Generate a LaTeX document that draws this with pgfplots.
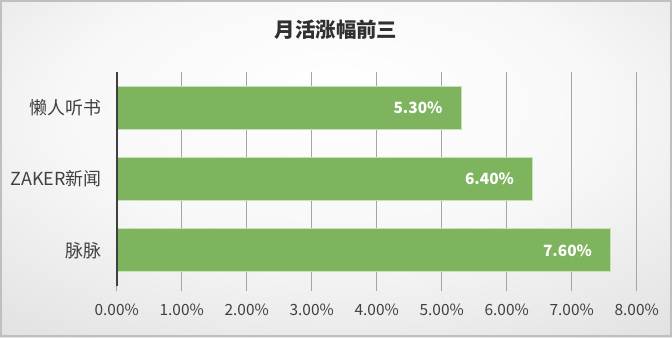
\documentclass[border=0pt]{standalone}
\usepackage{pgfplots}
\pgfplotsset{compat=1.18}
\usepackage{fontspec}
\setmainfont{Noto Sans CJK SC}
\definecolor{barg}{RGB}{127,180,95}
\definecolor{barb}{RGB}{200,225,185}
\definecolor{txt}{RGB}{64,64,64}
\definecolor{gridc}{RGB}{165,165,165}
\pgfdeclareradialshading{bgshade}{\pgfpoint{0bp}{12bp}}{color(0bp)=(white); color(20bp)=(white!97!black); color(72bp)=(white!74!black)}
\begin{document}
\begin{tikzpicture}[x=1bp,y=1bp]
\shade[shading=bgshade] (0,0) rectangle (672,337);
\draw[line width=2bp, draw=white!75!black] (1,1) rectangle (671,336);
\node[font=\bfseries\fontsize{20.5}{24}\selectfont, text=txt!75!black] at (336,307) {月活涨幅前三};
\begin{axis}[
  at={(116.7bp,51bp)}, anchor=south west,
  scale only axis, width=520bp, height=214bp,
  xbar, bar width=43bp,
  xmin=0, xmax=8, ymin=-0.5, ymax=2.5,
  axis lines*=left,
  x axis line style={draw=none},
  y axis line style={draw=none},
  xtick={0,1,2,3,4,5,6,7,8},
  xticklabels={0.00\%,1.00\%,2.00\%,3.00\%,4.00\%,5.00\%,6.00\%,7.00\%,8.00\%},
  ytick={0,1,2},
  yticklabels={脉脉,ZAKER新闻,懒人听书},
  xmajorgrids, grid style={draw=gridc, line width=0.8bp},
  tick align=outside, major tick length=5bp,
  xtick style={draw=gridc, line width=0.8bp},
  ytick style={draw=none},
  xticklabel style={font=\fontsize{15.5}{18}\selectfont, text=txt, inner sep=0pt, yshift=-13bp},
  yticklabel style={font=\fontsize{18}{21}\selectfont, text=txt, inner sep=0pt, xshift=-10bp},
  point meta=explicit symbolic,
  nodes near coords,
  every node near coord/.append style={anchor=east, xshift=-15bp, font=\bfseries\fontsize{15.5}{18}\selectfont, text=white},
  clip=false,
]
\addplot[fill=barg, draw=barb, line width=1bp] coordinates {
  (7.6,0) [7.60\%]
  (6.4,1) [6.40\%]
  (5.3,2) [5.30\%]
};
\draw[draw=txt, line width=2.2bp] (axis cs:0,-0.5) -- (axis cs:0,2.5);
\end{axis}
\end{tikzpicture}
\end{document}
